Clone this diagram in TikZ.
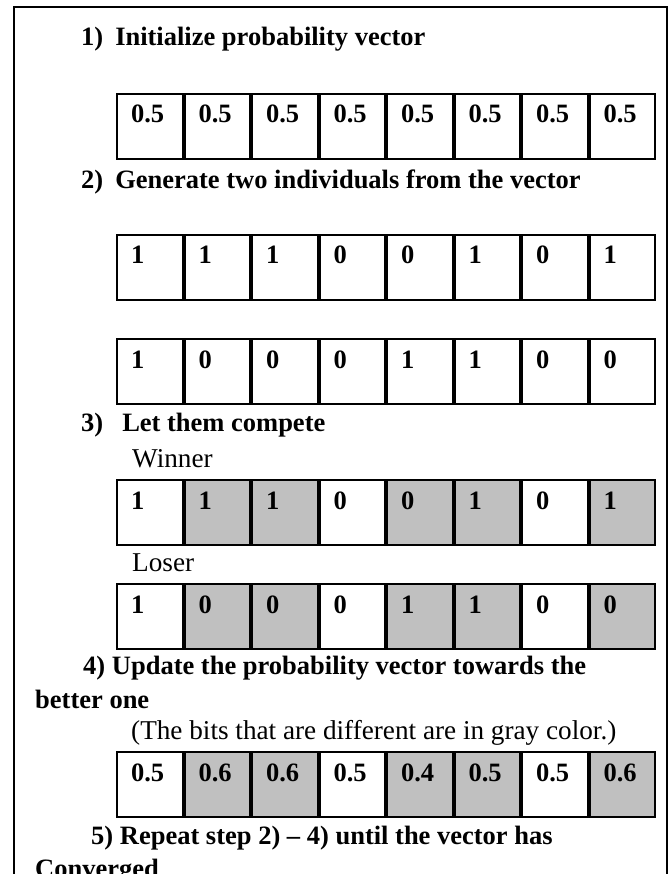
\documentclass[tikz,border=0pt]{standalone}
\usepackage{fontspec}
\setmainfont{Liberation Serif}
\usepackage{tikz}
\usetikzlibrary{matrix}
\definecolor{diffgray}{HTML}{C0C0C0}

\begin{document}
\begin{tikzpicture}[x=1pt, y=-1pt, every node/.style={font=\fontsize{26.5}{31}\selectfont, inner sep=0pt},
	heading/.style={anchor=base west, font=\fontsize{26.5}{31}\selectfont\bfseries},
	plain/.style={anchor=base west, font=\fontsize{27.2}{31}\selectfont},
	bit/.style={draw, line width=2pt, outer sep=0pt, inner xsep=14pt, inner ysep=0pt, text width=37.5pt, align=left, text height=29pt, text depth=36pt, font=\fontsize{26.5}{31}\selectfont\bfseries},
	vec/.style={matrix of nodes, nodes={bit}, column sep=0pt, row sep=0pt, inner sep=0pt, outer sep=0pt, anchor=north west},
	diff/.style={fill=diffgray}]
	\useasboundingbox (0,0) rectangle (670,874);
	\clip (0,0) rectangle (670,874);
	% outer frame, open at the bottom
	\draw[line width=2pt] (14,890) -- (14,7.5) -- (667,7.5) -- (667,890);

	\node[heading] (s1) at (81,46) {1)\hspace{12pt}Initialize probability vector};
	\matrix (V1) [vec] at (116,93) {
		0.5 & 0.5 & 0.5 & 0.5 & 0.5 & 0.5 & 0.5 & 0.5 \\
	};

	\node[heading] (s2) at (81,189) {2)\hspace{12pt}Generate two individuals from the vector};
	\matrix (V2) [vec] at (116,234) {
		1 & 1 & 1 & 0 & 0 & 1 & 0 & 1 \\
	};
	\matrix (V3) [vec] at (116,338) {
		1 & 0 & 0 & 0 & 1 & 1 & 0 & 0 \\
	};

	\node[heading] (s3) at (81,431) {3)\hspace{19pt}Let them compete};
	\node[plain] (win) at (132,467) {Winner};
	\matrix (W) [vec] at (116,479) {
		1 & |[diff]| 1 & |[diff]| 1 & 0 & |[diff]| 0 & |[diff]| 1 & 0 & |[diff]| 1 \\
	};
	\node[plain] (lose) at (132,571) {Loser};
	\matrix (L) [vec] at (116,583) {
		1 & |[diff]| 0 & |[diff]| 0 & 0 & |[diff]| 1 & |[diff]| 1 & 0 & |[diff]| 0 \\
	};

	\node[heading] (s4) at (83,674) {4) Update the probability vector towards the};
	\node[heading] (s4b) at (35,708) {better one};
	\node[plain] (note) at (131,739) {(The bits that are different are in gray color.)};
	\matrix (P) [vec] at (116,751) {
		0.5 & |[diff]| 0.6 & |[diff]| 0.6 & 0.5 & |[diff]| 0.4 & |[diff]| 0.5 & 0.5 & |[diff]| 0.6 \\
	};

	\node[heading] (s5) at (91,844) {5) Repeat step 2) -- 4) until the vector has};
	\node[heading] (s5b) at (35,877) {Converged};
\end{tikzpicture}
\end{document}
